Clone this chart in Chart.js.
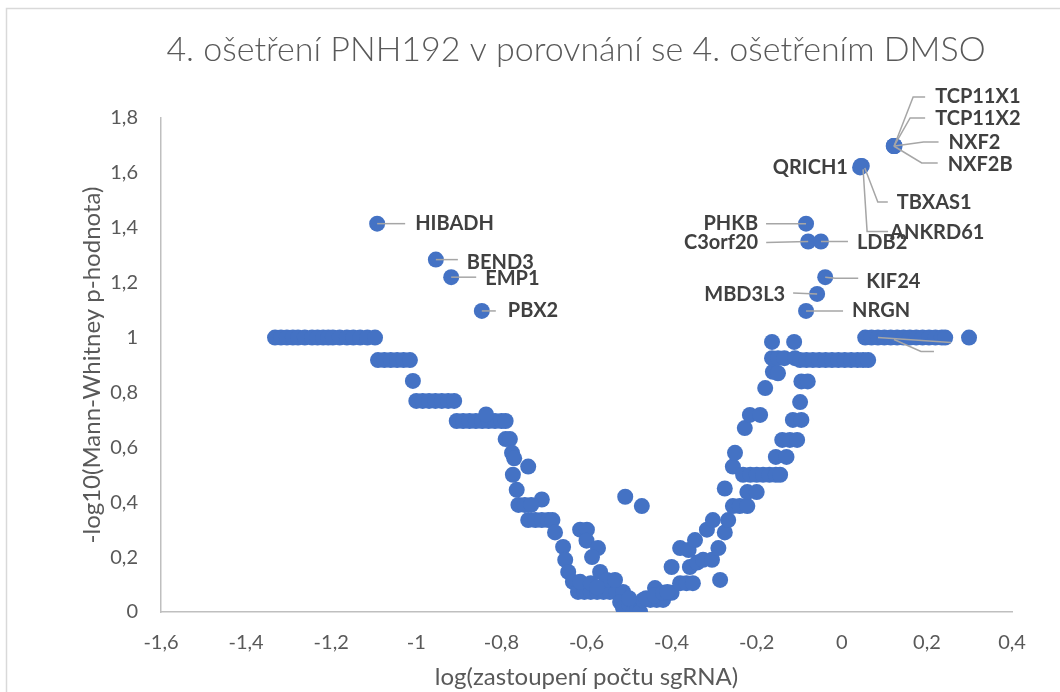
<!DOCTYPE html>
<html>
<head>
<meta charset="utf-8">
<script src="https://cdn.jsdelivr.net/npm/chart.js@4.4.1/dist/chart.umd.min.js"></script>
<style>
  html, body { margin: 0; padding: 0; background: #fff; }
</style>
</head>
<body>
<canvas id="volcano" width="1060" height="692"></canvas>
<script>
Chart.defaults.animation = false;
Chart.defaults.font.family = 'Lato, "Open Sans", sans-serif';

const chartTitle = '4. ošetření PNH192 v porovnání se 4. ošetřením DMSO';
const xTitle = 'log(zastoupení počtu sgRNA)';
const yTitle = '-log10(Mann-Whitney p-hodnota)';

const xTickValues = [-1.6, -1.4, -1.2, -1, -0.8, -0.6, -0.4, -0.2, 0, 0.2, 0.4];
const yTickValues = [0, 0.2, 0.4, 0.6, 0.8, 1, 1.2, 1.4, 1.6, 1.8];

// unlabelled sgRNAs: log abundance (x) and -log10 p (y), same order
const logAbund = [
  // left plateau rows
  -1.332, -1.318, -1.304, -1.290, -1.278, -1.262, -1.245, -1.232, -1.219, -1.207, -1.196, -1.180, -1.163, -1.148, -1.132, -1.115, -1.097,
  -1.090, -1.075, -1.060, -1.045, -1.030, -1.015,
  -1.008,
  -1.000, -0.985, -0.970, -0.955, -0.940, -0.925, -0.911,
  -0.905, -0.890, -0.875, -0.860, -0.845, -0.830, -0.815, -0.800, -0.790,
  -0.836,
  // left descent
  -0.790, -0.780, -0.775, -0.770, -0.737, -0.773, -0.764, -0.705, -0.760, -0.745, -0.730,
  -0.737, -0.720, -0.705, -0.690, -0.680, -0.674, -0.655, -0.650, -0.643, -0.632,
  -0.620, -0.605, -0.590, -0.575, -0.560, -0.545, -0.530, -0.514,
  -0.615, -0.599, -0.600, -0.573, -0.587, -0.568, -0.552, -0.533, -0.615, -0.590, -0.575,
  // bottom
  -0.521, -0.514, -0.500, -0.490, -0.481, -0.474, -0.467, -0.450, -0.435, -0.420, -0.439,
  -0.500, -0.460, -0.440, -0.420, -0.400, -0.509, -0.470,
  // right ascent
  -0.410, -0.380, -0.365, -0.350, -0.400, -0.357, -0.340, -0.326, -0.305, -0.380, -0.360,
  -0.290, -0.345, -0.317, -0.275, -0.303, -0.267, -0.256, -0.240, -0.222, -0.275, -0.222,
  -0.200, -0.256, -0.251, -0.232, -0.215, -0.200, -0.185, -0.170, -0.155, -0.145, -0.228,
  -0.216, -0.192, -0.155, -0.130, -0.140, -0.122, -0.105, -0.115, -0.095, -0.098, -0.095,
  -0.080, -0.180, -0.162, -0.150, -0.164, -0.150, -0.135, -0.110, -0.164, -0.112, -0.286,
  // right plateau rows
  -0.098, -0.083, -0.068, -0.053, -0.038, -0.023, -0.008, 0.007, 0.022, 0.037, 0.050, 0.062,
  0.055, 0.070, 0.085, 0.100, 0.115, 0.130, 0.145, 0.160, 0.175, 0.190, 0.205, 0.220, 0.235, 0.243, 0.299
];
const negLogP = [
  1, 1, 1, 1, 1, 1, 1, 1, 1, 1, 1, 1, 1, 1, 1, 1, 1,
  0.918, 0.918, 0.918, 0.918, 0.918, 0.918,
  0.842,
  0.769, 0.769, 0.769, 0.769, 0.769, 0.769, 0.769,
  0.696, 0.696, 0.696, 0.696, 0.696, 0.696, 0.696, 0.696, 0.696,
  0.72,
  0.63, 0.63, 0.58, 0.56, 0.53, 0.50, 0.445, 0.41, 0.39, 0.39, 0.39,
  0.335, 0.335, 0.335, 0.335, 0.335, 0.29, 0.237, 0.19, 0.146, 0.11,
  0.073, 0.073, 0.073, 0.073, 0.073, 0.073, 0.073, 0.073,
  0.30, 0.30, 0.26, 0.233, 0.20, 0.146, 0.117, 0.117, 0.11, 0.105, 0.09,
  0.036, 0.015, 0.03, 0, 0.018, 0, 0.044, 0.044, 0.044, 0.044, 0.087,
  0.05, 0.05, 0.06, 0.07, 0.07, 0.42, 0.386,
  0.073, 0.105, 0.105, 0.105, 0.164, 0.164, 0.18, 0.19, 0.19, 0.233, 0.226,
  0.233, 0.262, 0.30, 0.29, 0.335, 0.335, 0.386, 0.386, 0.386, 0.45, 0.437,
  0.437, 0.53, 0.58, 0.50, 0.50, 0.50, 0.50, 0.50, 0.50, 0.50, 0.67,
  0.718, 0.718, 0.565, 0.565, 0.627, 0.627, 0.627, 0.70, 0.70, 0.765, 0.84,
  0.84, 0.816, 0.875, 0.87, 0.925, 0.925, 0.925, 0.925, 0.984, 0.984, 0.117,
  0.918, 0.918, 0.918, 0.918, 0.918, 0.918, 0.918, 0.918, 0.918, 0.918, 0.918, 0.918,
  1, 1, 1, 1, 1, 1, 1, 1, 1, 1, 1, 1, 1, 1, 1
];

// labelled genes
const geneNames = ['HIBADH', 'BEND3', 'EMP1', 'PBX2', 'PHKB', 'C3orf20', 'LDB2', 'KIF24', 'MBD3L3', 'NRGN',
  'QRICH1', 'TBXAS1', 'ANKRD61', 'TCP11X1', 'TCP11X2', 'NXF2', 'NXF2B'];
const geneX = [-1.092, -0.954, -0.918, -0.846, -0.084, -0.079, -0.049, -0.039, -0.058, -0.084,
  0.045, 0.047, 0.043, 0.123, 0.123, 0.124, 0.122];
const geneY = [1.415, 1.284, 1.22, 1.097, 1.415, 1.35, 1.35, 1.22, 1.159, 1.097,
  1.625, 1.625, 1.62, 1.698, 1.698, 1.698, 1.698];

// label placement in pixels relative to each point: leader path, text anchor, alignment
const labelLayout = {
  HIBADH:  { path: [[0, 0], [28, 0]], text: [38, 0], align: 'left' },
  BEND3:   { path: [[0, 0], [22, 0]], text: [31, 3], align: 'left' },
  EMP1:    { path: [[0, 0], [25, 0]], text: [34, 1], align: 'left' },
  PBX2:    { path: [[0, 0], [14, 0]], text: [26, 0], align: 'left' },
  PHKB:    { path: [[0, 0], [-40, 0]], text: [-48, 0], align: 'right' },
  C3orf20: { path: [[0, 0], [-42, 1]], text: [-50, 1], align: 'right' },
  LDB2:    { path: [[0, 0], [27, 0]], text: [36, 1], align: 'left' },
  KIF24:   { path: [[0, 0], [10, 1], [33, 1]], text: [41, 4], align: 'left' },
  MBD3L3:  { path: [[0, 0], [-24, -1]], text: [-32, 1], align: 'right' },
  NRGN:    { path: [[0, 0], [37, 0]], text: [46, 0], align: 'left' },
  QRICH1:  { path: null, text: [-13, 2], align: 'right' },
  TBXAS1:  { path: [[3, 2], [16, 36], [26, 36]], text: [35, 37], align: 'left' },
  ANKRD61: { path: [[3, 2], [7, 64], [28, 64]], text: [30, 65], align: 'left' },
  TCP11X1: { path: [[0, 0], [19, -49], [31, -49]], text: [41, -49], align: 'left' },
  TCP11X2: { path: [[0, 0], [16, -28], [31, -28]], text: [41, -27], align: 'left' },
  NXF2:    { path: [[0, 0], [29, -4], [44, -4]], text: [54, -3], align: 'left' },
  NXF2B:   { path: [[0, 0], [28, 17], [44, 17]], text: [54, 19], align: 'left' }
};
// two stray leader lines without text inside the right plateau (anchored on point index)
const strayAnchor = logAbund.indexOf(0.085);
const strayPaths = [[[0, 0], [73, 5]], [[16, 2], [43, 14], [56, 14]]];

const fmt = v => String(Math.round(v * 10) / 10).replace('.', ',');

const framePlugin = {
  id: 'frame',
  beforeDraw(chart) {
    const { ctx } = chart;
    ctx.save();
    ctx.fillStyle = '#fff';
    ctx.fillRect(0, 0, chart.width, chart.height);
    ctx.strokeStyle = '#d9d9d9';
    ctx.lineWidth = 1.5;
    ctx.strokeRect(6.5, 8.5, 1200, 800);
    ctx.restore();
  },
  afterDraw(chart) {
    const { ctx } = chart;
    ctx.save();
    ctx.fillStyle = '#595959';
    ctx.font = '300 34px Lato, "Open Sans", sans-serif';
    ctx.textAlign = 'center';
    ctx.textBaseline = 'middle';
    ctx.fillText(chartTitle, 576, 50);
    ctx.restore();
  }
};

const leaderPlugin = {
  id: 'leaders',
  afterDatasetsDraw(chart) {
    const { ctx } = chart;
    const x = chart.scales.x, y = chart.scales.y;
    const drawPath = (px, py, path) => {
      ctx.beginPath();
      path.forEach(([dx, dy], k) => k ? ctx.lineTo(px + dx, py + dy) : ctx.moveTo(px + dx, py + dy));
      ctx.stroke();
    };
    ctx.save();
    ctx.strokeStyle = '#a6a6a6';
    ctx.lineWidth = 1.5;
    geneNames.forEach((name, i) => {
      const lay = labelLayout[name];
      if (lay.path) drawPath(x.getPixelForValue(geneX[i]), y.getPixelForValue(geneY[i]), lay.path);
    });
    if (strayAnchor >= 0) {
      const sx = x.getPixelForValue(logAbund[strayAnchor]), sy = y.getPixelForValue(negLogP[strayAnchor]);
      strayPaths.forEach(p => drawPath(sx, sy, p));
    }
    ctx.fillStyle = '#404040';
    ctx.font = 'bold 20px Lato, "Open Sans", sans-serif';
    ctx.textBaseline = 'middle';
    geneNames.forEach((name, i) => {
      const lay = labelLayout[name];
      ctx.textAlign = lay.align;
      ctx.fillText(name, x.getPixelForValue(geneX[i]) + lay.text[0], y.getPixelForValue(geneY[i]) + lay.text[1]);
    });
    ctx.restore();
  }
};

const pointStyle = {
  pointRadius: 8,
  pointHoverRadius: 8,
  pointBackgroundColor: '#4472C4',
  pointBorderWidth: 0,
  showLine: false
};

new Chart(document.getElementById('volcano'), {
  type: 'scatter',
  data: {
    datasets: [
      Object.assign({ label: 'sgRNA', data: logAbund.map((v, i) => ({ x: v, y: negLogP[i] })) }, pointStyle),
      Object.assign({ label: 'geny', data: geneX.map((v, i) => ({ x: v, y: geneY[i] })) }, pointStyle)
    ]
  },
  options: {
    responsive: false,
    animation: false,
    events: [],
    layout: { padding: { left: 0, right: 48, top: 118, bottom: 0 } },
    plugins: {
      legend: { display: false },
      tooltip: { enabled: false },
      title: { display: false }
    },
    scales: {
      x: {
        type: 'linear',
        min: -1.6,
        max: 0.4,
        afterBuildTicks: s => { s.ticks = xTickValues.map(v => ({ value: v })); },
        afterFit: s => { s.height = 80; },
        grid: { display: false, drawTicks: false },
        border: { display: true, color: '#bfbfbf', width: 1.5 },
        ticks: { color: '#595959', font: { size: 20 }, padding: 19, callback: v => fmt(v), maxRotation: 0 },
        title: { display: true, text: xTitle, color: '#595959', font: { size: 24 }, padding: { top: 0, bottom: 0 } }
      },
      y: {
        type: 'linear',
        min: 0,
        max: 1.8,
        afterBuildTicks: s => { s.ticks = yTickValues.map(v => ({ value: v })); },
        afterFit: s => { s.width = 161; },
        grid: { display: false, drawTicks: false },
        border: { display: true, color: '#bfbfbf', width: 1.5 },
        ticks: { color: '#595959', font: { size: 20 }, padding: 23, callback: v => fmt(v) },
        title: { display: true, text: yTitle, color: '#595959', font: { size: 24 }, padding: { top: 78, bottom: 0 } }
      }
    }
  },
  plugins: [framePlugin, leaderPlugin]
});
</script>
</body>
</html>
